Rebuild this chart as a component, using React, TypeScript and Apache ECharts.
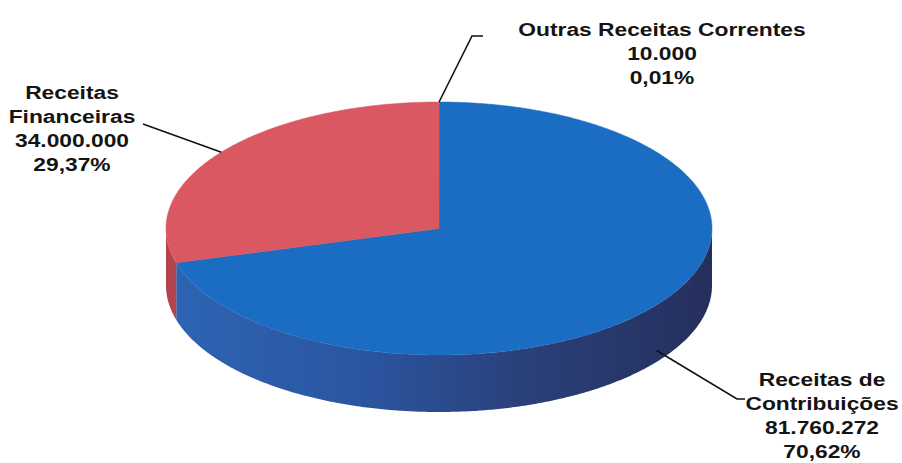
import React, { useEffect, useRef } from "react";
import * as echarts from "echarts";

// ---- data ----
const categories = ["Outras Receitas Correntes", "Receitas de Contribuições", "Receitas Financeiras"];
const labelNames = ["Outras Receitas Correntes", "Receitas de\nContribuições", "Receitas\nFinanceiras"];
const values = [10000, 81760272, 34000000];

// ---- style / layout ----
const topColors = ["#1b6cc1", "#1a6dc3", "#da5862"];
const labelPos = [
  [662, 53],
  [822, 415],
  [72, 128],
];
const leaderRoutes = [
  [[472, 36], [483, 36]],
  [[737, 399], [745, 399]],
  [[143, 124]],
];

const CX = 439;
const CY = 228.5;
const RX = 273;
const RY = 126.5;
const DEPTH = 57;

const total = values.reduce((a, b) => a + b, 0);
const starts: number[] = [];
{
  let acc = 0;
  values.forEach((v) => {
    starts.push(90 - (acc / total) * 360);
    acc += v;
  });
}

const fmtNum = (n: number) => String(n).replace(/\B(?=(\d{3})+(?!\d))/g, ".");
const fmtPct = (v: number) => ((v / total) * 100).toFixed(2).replace(".", ",") + "%";

const P = (deg: number, dy = 0): number[] => {
  const r = (deg * Math.PI) / 180;
  return [CX + RX * Math.cos(r), CY - RY * Math.sin(r) + dy];
};

const arcPts = (from: number, to: number, dy = 0): number[][] => {
  const pts: number[][] = [];
  const n = Math.max(2, Math.ceil(Math.abs(to - from) / 0.5));
  for (let s = 0; s <= n; s++) {
    pts.push(P(from + ((to - from) * s) / n, dy));
  }
  return pts;
};

export default function App() {
  const ref = useRef<HTMLDivElement>(null);
  useEffect(() => {
    if (!ref.current) return;
    const chart = echarts.init(ref.current, null, { renderer: "svg" });

    const blueWall = new echarts.graphic.LinearGradient(0, 0, 1, 0, [
      { offset: 0, color: "#2d64b3" },
      { offset: 0.35, color: "#2b55a0" },
      { offset: 0.65, color: "#2a4079" },
      { offset: 1, color: "#252f5c" },
    ]);
    const wallFills = [blueWall, blueWall, "#b3434f"];

    const renderItem = (params: any, api: any) => {
      const i = params.dataIndex;
      const v = api.value(0) as number;
      const a0 = starts[i];
      const a1 = a0 - (v / total) * 360;
      const children: any[] = [];

      // side walls (front half only)
      for (let k = -2; k <= 2; k++) {
        const lo = Math.max(a1, -180 + 360 * k);
        const hi = Math.min(a0, 360 * k);
        if (hi > lo) {
          const topArc = arcPts(lo, hi, 0);
          const botArc = arcPts(hi, lo, DEPTH);
          children.push({
            type: "polygon",
            shape: { points: topArc.concat(botArc) },
            style: { fill: wallFills[i], stroke: null },
            z2: 1,
          });
        }
      }

      // top face
      const pts = [[CX, CY]].concat(arcPts(a0, a1, 0));
      children.push({
        type: "polygon",
        shape: { points: pts },
        style: { fill: topColors[i], stroke: topColors[i], lineWidth: 0.5 },
        z2: 5,
      });

      // leader line
      const mid = (a0 + a1) / 2;
      const rad = (mid * Math.PI) / 180;
      const front = Math.sin(rad) < 0;
      const anchor = P(mid, front ? DEPTH * 0.8 : 0);
      children.push({
        type: "polyline",
        shape: { points: [anchor].concat(leaderRoutes[i]) },
        style: { stroke: "#111", lineWidth: 1.6, fill: null },
        z2: 8,
      });

      // label
      children.push({
        type: "text",
        x: labelPos[i][0],
        y: labelPos[i][1],
        scaleX: 1.2,
        style: {
          text: labelNames[i] + "\n" + fmtNum(v) + "\n" + fmtPct(v),
          fill: "#141414",
          font: 'bold 19px "Liberation Sans", Arial, sans-serif',
          align: "center",
          verticalAlign: "middle",
          lineHeight: 24,
        },
        z2: 10,
      });

      return { type: "group", children };
    };

    chart.setOption({
      animation: false,
      backgroundColor: "#ffffff",
      series: [
        {
          type: "custom",
          name: "Receitas",
          coordinateSystem: "none",
          silent: true,
          renderItem,
          data: values.map((v, idx) => ({ name: categories[idx], value: [v] })),
        },
      ],
    });
    return () => chart.dispose();
  }, []);

  return (
    <div
      ref={ref}
      style={{ position: "fixed", left: 0, top: 0, width: 902, height: 463 }}
    />
  );
}
